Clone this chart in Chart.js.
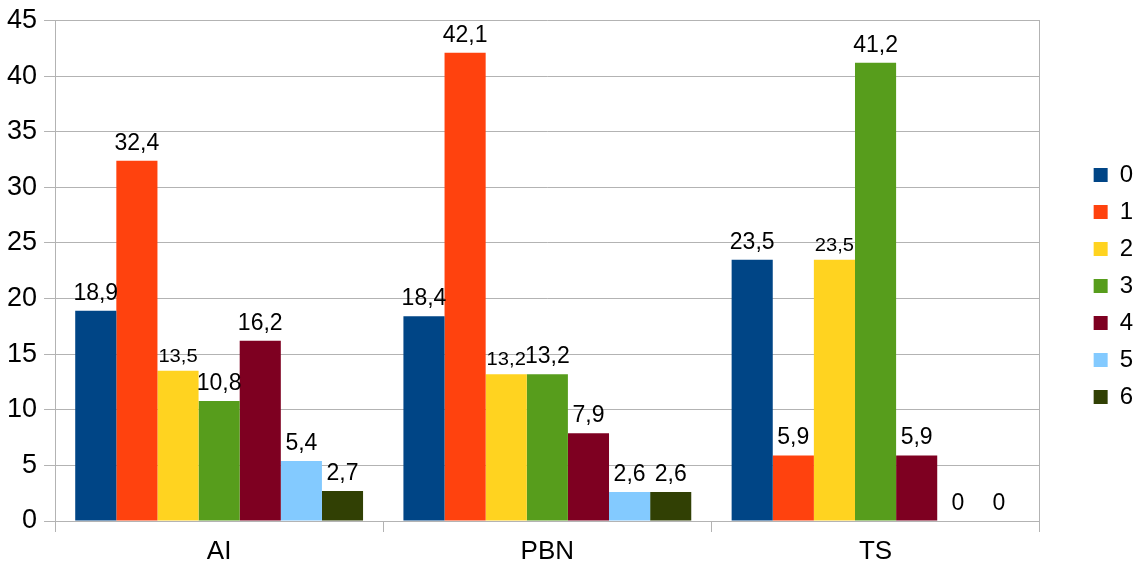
<!DOCTYPE html>
<html>
<head>
<meta charset="utf-8">
<script src="https://cdn.jsdelivr.net/npm/chart.js@4/dist/chart.umd.min.js"></script>
<style>
  html, body { margin: 0; padding: 0; background: #fff; }
  #wrap { width: 1143px; height: 572px; }
</style>
</head>
<body>
<div id="wrap"><canvas id="barChart"></canvas></div>
<script>
const categories = ['AI', 'PBN', 'TS'];
const seriesNames = ['0', '1', '2', '3', '4', '5', '6'];
const s0 = [18.9, 18.4, 23.5];
const s1 = [32.4, 42.1, 5.9];
const s2 = [13.5, 13.2, 23.5];
const s3 = [10.8, 13.2, 41.2];
const s4 = [16.2, 7.9, 5.9];
const s5 = [5.4, 2.6, 0];
const s6 = [2.7, 2.6, 0];
const colors = ['#004586', '#ff420e', '#ffd320', '#579d1c', '#7e0021', '#83caff', '#314004'];

const seriesValues = [s0, s1, s2, s3, s4, s5, s6];
const FONT = '"Liberation Sans", Arial, sans-serif';

// value labels above bars, comma as decimal mark
const valueLabels = {
    id: 'valueLabels',
    afterDatasetsDraw(chart) {
        const ctx = chart.ctx;
        chart.data.datasets.forEach((ds, i) => {
            const meta = chart.getDatasetMeta(i);
            const small = i === 2;
            meta.data.forEach((bar, j) => {
                const txt = String(ds.data[j]).replace('.', ',');
                ctx.save();
                ctx.fillStyle = '#000';
                ctx.textAlign = 'center';
                ctx.textBaseline = 'alphabetic';
                if (small) {
                    ctx.font = '18px ' + FONT;
                    ctx.translate(bar.x, bar.y - 9);
                    ctx.scale(1.12, 1);
                    ctx.fillText(txt, 0, 0);
                } else {
                    ctx.font = '23px ' + FONT;
                    ctx.fillText(txt, bar.x, bar.y - 11);
                }
                ctx.restore();
            });
        });
    }
};

new Chart(document.getElementById('barChart'), {
    type: 'bar',
    data: {
        labels: categories,
        datasets: seriesNames.map((name, i) => ({
            label: name,
            data: seriesValues[i],
            backgroundColor: colors[i],
            borderWidth: 0,
            categoryPercentage: 0.877,
            barPercentage: 1
        }))
    },
    options: {
        responsive: true,
        maintainAspectRatio: false,
        animation: false,
        layout: { padding: { top: 0, right: 0, left: 0, bottom: 0 } },
        plugins: {
            legend: {
                position: 'right',
                labels: {
                    boxWidth: 14,
                    boxHeight: 14,
                    padding: 13,
                    color: '#000',
                    font: { size: 24, family: FONT }
                }
            },
            tooltip: { enabled: false }
        },
        scales: {
            x: {
                grid: {
                    offset: true,
                    drawOnChartArea: false,
                    tickLength: 11,
                    color: '#b3b3b3'
                },
                border: { color: '#b3b3b3' },
                ticks: {
                    color: '#000',
                    padding: 7,
                    font: { size: 26, family: FONT, lineHeight: 1 }
                }
            },
            y: {
                min: 0,
                max: 45,
                ticks: {
                    stepSize: 5,
                    color: '#000',
                    padding: 7,
                    font: { size: 27, family: FONT, lineHeight: 1 }
                },
                grid: { color: '#b3b3b3', tickLength: 11 },
                border: { color: '#b3b3b3' }
            },
            // empty right-hand axis: draws the plot's right border and leaves the gap before the legend
            yRight: {
                position: 'right',
                min: 0,
                max: 45,
                ticks: { display: false },
                grid: { drawOnChartArea: false, drawTicks: false, color: '#b3b3b3' },
                border: { display: true, color: '#b3b3b3' },
                afterFit(scale) { scale.width = 41; }
            }
        }
    },
    plugins: [valueLabels]
});
</script>
</body>
</html>
